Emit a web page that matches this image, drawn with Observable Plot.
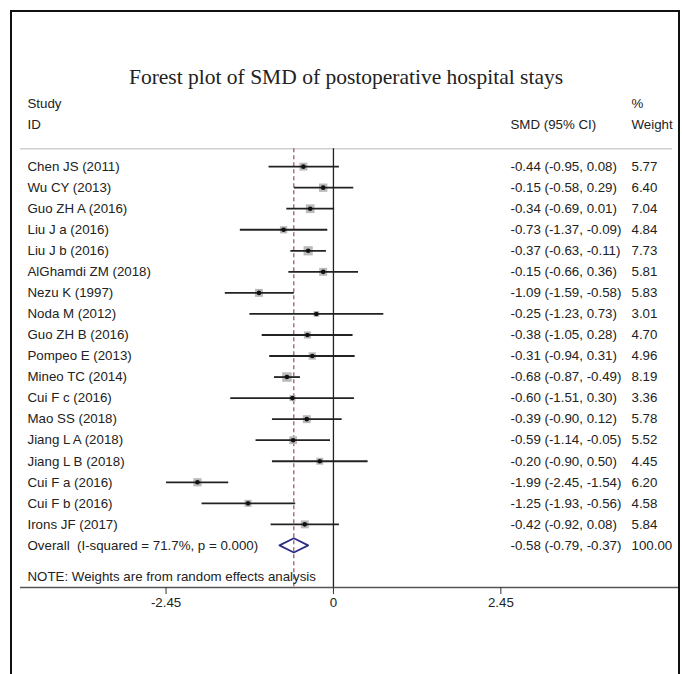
<!DOCTYPE html>
<html>
<head>
<meta charset="utf-8">
<script src="https://cdn.jsdelivr.net/npm/d3@7"></script>
<script src="https://cdn.jsdelivr.net/npm/@observablehq/plot@0.6"></script>
<style>
  html, body { margin: 0; padding: 0; background: #fff; overflow: hidden; }
  #wrap { position: relative; width: 682px; height: 674px; }
  #frame { position: absolute; left: 10px; top: 10px; width: 666px; height: 700px; border: 2px solid #111; box-sizing: content-box; }
  #title { position: absolute; top: 63px; left: 0; width: 692px; text-align: center;
           font-family: "Liberation Serif", "Times New Roman", serif; font-size: 21.5px; line-height: 28px; color: #222; }
  #chart { position: absolute; left: 0; top: 0; }
  #chart svg { background: transparent; }
</style>
</head>
<body>
<div id="wrap">
  <div id="frame"></div>
  <div id="title">Forest plot of SMD of postoperative hospital stays</div>
  <div id="chart"></div>
</div>
<script>
// ---- data ----
const studies = ["Chen JS (2011)", "Wu CY (2013)", "Guo ZH A (2016)", "Liu J a (2016)", "Liu J b (2016)",
  "AlGhamdi ZM (2018)", "Nezu K (1997)", "Noda M (2012)", "Guo ZH B (2016)", "Pompeo E (2013)",
  "Mineo TC (2014)", "Cui F c (2016)", "Mao SS (2018)", "Jiang L A (2018)", "Jiang L B (2018)",
  "Cui F a (2016)", "Cui F b (2016)", "Irons JF (2017)"];
const smd    = [-0.44, -0.15, -0.34, -0.73, -0.37, -0.15, -1.09, -0.25, -0.38, -0.31, -0.68, -0.60, -0.39, -0.59, -0.20, -1.99, -1.25, -0.42];
const lower  = [-0.95, -0.58, -0.69, -1.37, -0.63, -0.66, -1.59, -1.23, -1.05, -0.94, -0.87, -1.51, -0.90, -1.14, -0.90, -2.45, -1.93, -0.92];
const upper  = [ 0.08,  0.29,  0.01, -0.09, -0.11,  0.36, -0.58,  0.73,  0.28,  0.31, -0.49,  0.30,  0.12, -0.05,  0.50, -1.54, -0.56,  0.08];
const weights = [5.77, 6.40, 7.04, 4.84, 7.73, 5.81, 5.83, 3.01, 4.70, 4.96, 8.19, 3.36, 5.78, 5.52, 4.45, 6.20, 4.58, 5.84];
const overallEst = -0.58, overallLo = -0.79, overallHi = -0.37, overallWeight = 100.00;
const iSquared = "71.7%", pValue = "0.000";
const xTicks = [-2.45, 0, 2.45];
const headerLeft = ["Study", "ID"];
const headerSMD = "SMD (95% CI)";
const headerWeight = ["%", "Weight"];
const note = "NOTE: Weights are from random effects analysis";

// ---- derived table ----
const fmt = v => v.toFixed(2);
const rows = studies.map((s, i) => ({
  study: s, smd: smd[i], lo: lower[i], hi: upper[i], w: weights[i], row: i,
  ci: `${fmt(smd[i])} (${fmt(lower[i])}, ${fmt(upper[i])})`, wt: fmt(weights[i])
}));
const overallRow = studies.length;
const noteRow = overallRow + 1.5;
const axisRow = overallRow + 2;
const sepRow = -0.85;
const halfH = 0.34;
const diamond = [
  {x: overallLo, y: overallRow}, {x: overallEst, y: overallRow - halfH},
  {x: overallHi, y: overallRow}, {x: overallEst, y: overallRow + halfH},
  {x: overallLo, y: overallRow}
];
const overallRowData = [{
  label: `Overall\u00a0 (I-squared = ${iSquared}, p = ${pValue})`,
  ci: `${fmt(overallEst)} (${fmt(overallLo)}, ${fmt(overallHi)})`,
  wt: fmt(overallWeight), row: overallRow
}];

const txt = "#222";
const chart = Plot.plot({
  width: 682, height: 674,
  marginLeft: 20, marginRight: 4, marginTop: 103, marginBottom: 87,
  x: {domain: [-4.58, 5.05], axis: null},
  y: {domain: [-3, axisRow], reverse: true, axis: null},
  r: {domain: [0, 10], range: [0, 5.9]},
  style: {fontFamily: "'Liberation Sans', Arial, sans-serif", fontSize: "13.3px", color: txt, background: "transparent"},
  marks: [
    Plot.ruleY([sepRow], {stroke: "#d0d0d0", strokeWidth: 1.5, insetRight: 6}),
    Plot.ruleX([0], {y1: sepRow, y2: axisRow, stroke: "#222", strokeWidth: 1.3}),
    Plot.ruleX([overallEst], {y1: sepRow, y2: axisRow, stroke: "#a8455a", strokeWidth: 1.2, strokeDasharray: "4,3"}),
    Plot.dot(rows, {x: "smd", y: "row", r: "w", symbol: "square", fill: "#bababa"}),
    Plot.link(rows, {x1: "lo", x2: "hi", y1: "row", y2: "row", stroke: "#222", strokeWidth: 1.8}),
    Plot.dot(rows, {x: "smd", y: "row", r: 2.3, fill: "#111"}),
    Plot.line(diamond, {x: "x", y: "y", stroke: "#2e2e88", strokeWidth: 1.8}),
    // left column
    Plot.text(headerLeft, {y: (d, i) => -3 + i, text: d => d, frameAnchor: "left", textAnchor: "start", dx: 7, fill: txt}),
    Plot.text(rows, {y: "row", text: "study", frameAnchor: "left", textAnchor: "start", dx: 7, fill: txt}),
    Plot.text(overallRowData, {y: "row", text: "label", frameAnchor: "left", textAnchor: "start", dx: 7, fill: txt}),
    Plot.text([note], {y: noteRow, text: d => d, frameAnchor: "left", textAnchor: "start", dx: 7, fill: txt}),
    // SMD column
    Plot.text([headerSMD], {y: -2, text: d => d, frameAnchor: "right", textAnchor: "start", dx: -168, fill: txt}),
    Plot.text(rows, {y: "row", text: "ci", frameAnchor: "right", textAnchor: "start", dx: -168, fill: txt}),
    Plot.text(overallRowData, {y: "row", text: "ci", frameAnchor: "right", textAnchor: "start", dx: -168, fill: txt}),
    // weight column
    Plot.text(headerWeight, {y: (d, i) => -3 + i, text: d => d, frameAnchor: "right", textAnchor: "start", dx: -47, fill: txt}),
    Plot.text(rows, {y: "row", text: "wt", frameAnchor: "right", textAnchor: "start", dx: -47, fill: txt}),
    Plot.text(overallRowData, {y: "row", text: "wt", frameAnchor: "right", textAnchor: "start", dx: -47, fill: txt}),
    // axis
    Plot.ruleY([axisRow], {stroke: "#555", strokeWidth: 1.6}),
    Plot.axisX({ticks: xTicks, tickFormat: d => d === 0 ? "0" : d.toFixed(2), tickSize: 7, tickPadding: 3, anchor: "bottom", stroke: "#333", fill: txt, fontSize: 13.3})
  ]
});
document.getElementById("chart").appendChild(chart);
</script>
</body>
</html>
